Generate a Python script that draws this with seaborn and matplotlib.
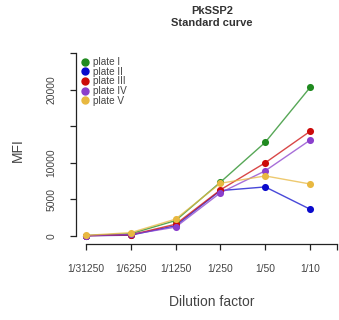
import numpy as np
import pandas as pd
import matplotlib
matplotlib.use("Agg")
import matplotlib.pyplot as plt
import seaborn as sns
from matplotlib.lines import Line2D

# dilution steps (x positions 1..6) and MFI per plate
dilutions = ["1/31250", "1/6250", "1/1250", "1/250", "1/50", "1/10"]
plates = ["plate I", "plate II", "plate III", "plate IV", "plate V"]
mfi_plate1 = [50, 300, 2100, 7350, 12800, 20300]
mfi_plate2 = [30, 100, 1400, 6200, 6700, 3650]
mfi_plate3 = [30, 150, 1600, 6300, 10000, 14300]
mfi_plate4 = [30, 200, 1200, 5900, 8900, 13100]
mfi_plate5 = [80, 450, 2300, 7200, 8200, 7100]
colors = ["#1f8a1f", "#0a0acc", "#cc0a0a", "#8a3fcc", "#e8b840"]

y_ticks = [0, 5000, 10000, 15000, 20000, 25000]
y_labels = ["0", "5000", "10000", "", "20000", ""]

sns.set_style("ticks")
plt.rcParams["font.family"] = ["Liberation Sans", "DejaVu Sans"]

rows = []
for name, vals in zip(plates, [mfi_plate1, mfi_plate2, mfi_plate3, mfi_plate4, mfi_plate5]):
    for i, v in enumerate(vals):
        rows.append({"plate": name, "x": i + 1, "mfi": v})
df = pd.DataFrame(rows)

fig = plt.figure(figsize=(3.39, 3.2), dpi=100)
ax = fig.add_axes([76 / 339, 76 / 320, 263 / 339, 191 / 320])

sns.lineplot(data=df, x="x", y="mfi", hue="plate", hue_order=plates,
             palette=colors, linewidth=1.0, alpha=0.75, legend=False, ax=ax)
for name, c in zip(plates, colors):
    sub = df[df["plate"] == name]
    ax.scatter(sub["x"], sub["mfi"], s=26, color=c, zorder=3, linewidths=0)

ax.set_xlim(0.78, 6.644)
ax.set_ylim(-1100, 25000)
sns.despine(ax=ax)
ax.spines["left"].set_bounds(0, 25000)
ax.spines["bottom"].set_bounds(1, 6.606)
for s in ["left", "bottom"]:
    ax.spines[s].set_linewidth(0.9)
    ax.spines[s].set_color("#222222")

ax.set_xticks([1, 2, 3, 4, 5, 6, 6.606])
ax.set_xticklabels(dilutions + [""])
ax.set_yticks(y_ticks)
ax.set_yticklabels(y_labels, rotation=90, va="center")
ax.tick_params(axis="x", length=4.3, width=0.9, pad=10, labelsize=7.4, colors="#222222", labelcolor="#444444")
ax.tick_params(axis="y", length=4.3, width=0.9, pad=10, labelsize=7.4, colors="#222222", labelcolor="#444444")
ax.set_xlabel("")
ax.set_ylabel("")

fig.text(18 / 339, 1 - 150 / 320, "MFI", rotation=90, ha="center", va="center", fontsize=10, color="#444444")
fig.text(212 / 339, 1 - 302 / 320, "Dilution factor", ha="center", va="center", fontsize=10, color="#444444")
fig.text(212 / 339, 1 - 17 / 320, "PkSSP2\nStandard curve", ha="center", va="center",
         fontsize=8, fontweight="bold", color="#333333", linespacing=1.25)

handles = [Line2D([], [], marker="o", linestyle="none", color=c, markersize=5) for c in colors]
ax.legend(handles, plates, loc="upper left", bbox_to_anchor=(82 / 339, 1 - 57 / 320),
          bbox_transform=fig.transFigure, frameon=False, fontsize=7.2, labelspacing=-0.03,
          handlelength=0.6, handletextpad=0.5, borderpad=0, borderaxespad=0, labelcolor="#444444")

fig.savefig("out.png", dpi=100)
